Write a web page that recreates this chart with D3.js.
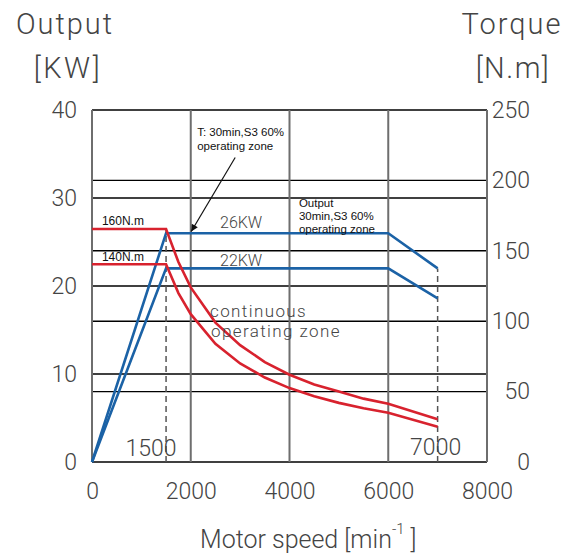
<!DOCTYPE html>
<html><head><meta charset="utf-8">
<script src="https://cdn.jsdelivr.net/npm/d3@7"></script>
<style>
body{margin:0;background:#fff;}
svg{display:block;}
.lt{font-family:Roboto,"Noto Sans",sans-serif;font-weight:300;fill:#444;}
.sm{font-family:"Liberation Sans Narrow","Liberation Sans",sans-serif;fill:#111;}
</style>
</head><body>
<svg id="c" width="566" height="557"></svg>
<script>
// ---- data ----
const speedTicks = [0, 2000, 4000, 6000, 8000];
const powerTicks = [0, 10, 20, 30, 40];
const torqueTicks = [0, 50, 100, 150, 200, 250];

const powerSpeed = [0, 1500, 6000, 7000];
const power26 = [0, 26, 26, 22];
const power22 = [0, 22, 22, 18.6];

const torqueSpeed = [0, 1500, 1750, 2000, 2500, 3000, 3500, 4000, 4500, 5000, 5500, 6000, 7000];
const torque160 = [165.5, 165.5, 142, 124, 99, 83, 71, 62, 55, 50, 45, 41.4, 30.3];
const torque140 = [140.5, 140.5, 120, 105, 84, 70, 60, 52.5, 46.7, 42, 38.2, 35, 25.1];

// ---- layout ----
const svg = d3.select("#c");
const x = d3.scaleLinear([0, 8000], [92, 487]);
const yP = d3.scaleLinear([0, 40], [462, 110]);
const yT = d3.scaleLinear([0, 250], [462, 110]);
const BLUE = "#1b62a6", RED = "#d8222e";

// grid
const g = svg.append("g");
powerTicks.forEach(v => g.append("line").attr("x1", x(0)).attr("x2", x(8000))
  .attr("y1", yP(v)).attr("y2", yP(v)).attr("stroke", "#000").attr("stroke-width", 1.4));
torqueTicks.slice(1, 5).forEach(v => g.append("line").attr("x1", x(0)).attr("x2", x(8000))
  .attr("y1", yT(v)).attr("y2", yT(v)).attr("stroke", "#000").attr("stroke-width", 1.4));
speedTicks.forEach(v => g.append("line").attr("x1", x(v)).attr("x2", x(v))
  .attr("y1", yP(0)).attr("y2", yP(40)).attr("stroke", "#6e6e6e").attr("stroke-width", 2));

// dashed markers
svg.append("line").attr("x1", x(1500)).attr("x2", x(1500)).attr("y1", yP(0)).attr("y2", yT(torque160[1]))
  .attr("stroke", "#555").attr("stroke-width", 1.5).attr("stroke-dasharray", "6,4");
svg.append("line").attr("x1", x(7000)).attr("x2", x(7000)).attr("y1", yP(0)).attr("y2", yP(power26[3]))
  .attr("stroke", "#555").attr("stroke-width", 1.5).attr("stroke-dasharray", "6,4");

// curves
const lineP = d3.line().x(d => x(d[0])).y(d => yP(d[1]));
const lineT = d3.line().x(d => x(d[0])).y(d => yT(d[1]));
[power26, power22].forEach(s => svg.append("path").attr("d", lineP(powerSpeed.map((v, i) => [v, s[i]])))
  .attr("fill", "none").attr("stroke", BLUE).attr("stroke-width", 2.6).attr("stroke-linejoin", "miter"));
[torque160, torque140].forEach(s => svg.append("path").attr("d", lineT(torqueSpeed.map((v, i) => [v, s[i]])))
  .attr("fill", "none").attr("stroke", RED).attr("stroke-width", 2.6).attr("stroke-linejoin", "miter"));

// axes
const ax = svg.append("g").attr("transform", `translate(0,${yP(0)})`)
  .call(d3.axisBottom(x).tickValues(speedTicks).tickSize(0).tickPadding(21).tickFormat(d3.format("d")));
const al = svg.append("g").attr("transform", `translate(${x(0)},0)`)
  .call(d3.axisLeft(yP).tickValues(powerTicks).tickSize(0).tickPadding(15));
const ar = svg.append("g").attr("transform", `translate(${x(8000)},0)`)
  .call(d3.axisRight(yT).tickValues(torqueTicks).tickSize(0).tickPadding(10));
[ax, al, ar].forEach(a => {
  a.select(".domain").remove();
  a.selectAll("text").attr("class", "lt").style("font-size", "23px").attr("fill", "#444");
});
ar.selectAll("text").attr("text-anchor", "end").attr("x", 43);

// titles
function txt(t, px, py, size, anchor, cls) {
  return svg.append("text").attr("class", cls || "lt").attr("x", px).attr("y", py)
    .attr("text-anchor", anchor || "start").style("font-size", size + "px").text(t);
}
txt("Output", 65, 34, 29, "middle").style("letter-spacing", "2px");
txt("[KW]", 68, 78, 29, "middle").style("letter-spacing", "2.5px");
txt("Torque", 512, 34, 29, "middle").style("letter-spacing", "2px");
txt("[N.m]", 513, 78, 29, "middle").style("letter-spacing", "1.5px");

const xl = svg.append("text").attr("class", "lt").attr("x", 200).attr("y", 548).style("font-size", "25px");
xl.append("tspan").text("Motor speed [min");
xl.append("tspan").attr("dy", -14).style("font-size", "15px").text("-1");
xl.append("tspan").attr("dy", 14).text(" ]");

// markers text
txt("1500", x(1500) - 15, yP(0) - 6, 23, "middle");
txt("7000", x(7000) - 2, yP(0) - 7, 23, "middle");

// annotations
txt("160N.m", x(200), yP(26.9), 12, "start", "sm");
txt("140N.m", x(200), yP(22.8), 12, "start", "sm");
txt("26KW", x(3020), yP(26.6), 16, "middle");
txt("22KW", x(3020), yP(22.3), 16, "middle");

const t1a = txt("T: 30min,S3 60%", x(2130), yP(37.0), 11.5, "start", "sm");
const t1b = txt("operating zone", x(2130), yP(35.5), 11.5, "start", "sm");

txt("Output", x(4190), yP(29.0), 11.5, "start", "sm");
txt("30min,S3 60%", x(4190), yP(27.5), 11.5, "start", "sm");
txt("operating zone", x(4190), yP(26.0), 11.5, "start", "sm");

txt("continuous", x(2390), yP(16.45), 17, "start").style("letter-spacing", "1.4px");
txt("operating zone", x(2410), yP(14.2), 17, "start").style("letter-spacing", "1.4px");

// arrow
svg.append("defs").append("marker").attr("id", "ah").attr("viewBox", "0 0 10 10")
  .attr("refX", 10).attr("refY", 5).attr("markerWidth", 15).attr("markerHeight", 7)
  .attr("markerUnits", "userSpaceOnUse").attr("orient", "auto")
  .append("path").attr("d", "M0,0 L10,5 L0,10 Z").attr("fill", "#111");
svg.append("line").attr("x1", x(2900)).attr("y1", yP(34.6)).attr("x2", x(2010)).attr("y2", yP(26.2))
  .attr("stroke", "#111").attr("stroke-width", 1.2).attr("marker-end", "url(#ah)");
</script>
</body></html>
